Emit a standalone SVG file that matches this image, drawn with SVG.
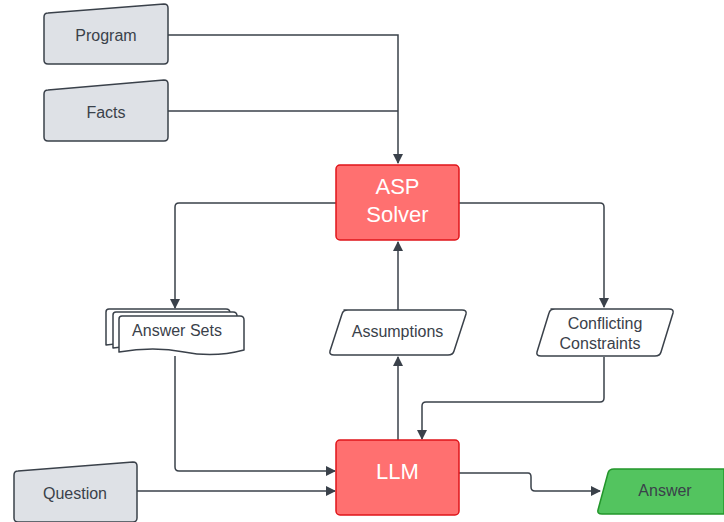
<svg xmlns="http://www.w3.org/2000/svg" width="724" height="522" viewBox="0 0 724 522">
  <style>
    .input { fill: #dee1e6; stroke: #3a414a; stroke-width: 1.5; stroke-linejoin: round; }
    .data { fill: #ffffff; stroke: #3a414a; stroke-width: 1.5; stroke-linejoin: round; }
    .proc { fill: #ff7070; stroke: #e0141a; stroke-width: 1.5; }
    .out { fill: #53c45f; stroke: #23962b; stroke-width: 1.5; stroke-linejoin: round; }
    .lbl { font-family: "Liberation Sans", Arial, sans-serif; font-size: 16px; fill: #3a414a; text-anchor: middle; }
    .big { font-family: "Liberation Sans", Arial, sans-serif; font-size: 22px; fill: #ffffff; text-anchor: middle; }
    .wire { fill: none; stroke: #3a414a; stroke-width: 1.5; }
  </style>
  <defs>
    <marker id="arrow" markerWidth="10" markerHeight="10" refX="9" refY="5" orient="auto" markerUnits="userSpaceOnUse">
      <path d="M0,0 L10,5 L0,10 Z" fill="#3a414a"/>
    </marker>
  </defs>

  <g id="connectors">
    <path class="wire" d="M168,35 H398 V163" marker-end="url(#arrow)"/>
    <path class="wire" d="M168,111 H398"/>
    <path class="wire" d="M336,203 H179 Q175,203 175,207 V308" marker-end="url(#arrow)"/>
    <path class="wire" d="M459,203 H600 Q604,203 604,207 V307" marker-end="url(#arrow)"/>
    <path class="wire" d="M398,310 V242" marker-end="url(#arrow)"/>
    <path class="wire" d="M398,440 V357" marker-end="url(#arrow)"/>
    <path class="wire" d="M604,357 V398 Q604,402 600,402 H426 Q422,402 422,406 V439" marker-end="url(#arrow)"/>
    <path class="wire" d="M175,356 V467 Q175,471 179,471 H335" marker-end="url(#arrow)"/>
    <path class="wire" d="M137,491 H335" marker-end="url(#arrow)"/>
    <path class="wire" d="M459,473 H528 Q531,473 531,477 V487 Q531,491 535,491 H600" marker-end="url(#arrow)"/>
  </g>

  <g id="program">
    <path class="input" d="M48,13 L164,4 Q168,4 168,8 V60 Q168,64 164,64 H48 Q44,64 44,60 V17 Q44,13 48,13 Z"/>
    <text class="lbl" x="106" y="41">Program</text>
  </g>

  <g id="facts">
    <path class="input" d="M48,90 L164,80 Q168,80 168,84 V137 Q168,141 164,141 H48 Q44,141 44,137 V94 Q44,90 48,90 Z"/>
    <text class="lbl" x="106" y="118">Facts</text>
  </g>

  <g id="asp-solver">
    <rect class="proc" x="336" y="165" width="123" height="75" rx="4"/>
    <text class="big" x="397.5" y="194">ASP</text>
    <text class="big" x="397.5" y="222">Solver</text>
  </g>

  <g id="answer-sets">
    <path class="data" d="M109,309 H226 Q230,309 230,313 V342 Q200,350 170,345 Q140,340 106,345 V312 Q106,309 109,309 Z"/>
    <path class="data" d="M116,312 H233 Q237,312 237,316 V346 Q207,354 177,349 Q147,343 113,348 V315 Q113,312 116,312 Z"/>
    <path class="data" d="M122,316 H240 Q244,316 244,320 V350 Q214,358 184,352 Q154,346 119,352 V319 Q119,316 122,316 Z"/>
    <text class="lbl" x="177" y="336">Answer Sets</text>
  </g>

  <g id="assumptions">
    <path class="data" d="M344,310 H462 Q467,310 466,314 L454,351 Q453,355 448,355 H334 Q329,355 330,351 L342,314 Q343,310 348,310 Z"/>
    <text class="lbl" x="397.5" y="337">Assumptions</text>
  </g>

  <g id="conflicting-constraints">
    <path class="data" d="M551,309 H669 Q674,309 673,313 L661,352 Q660,356 655,356 H541 Q536,356 537,352 L549,313 Q550,309 555,309 Z"/>
    <text class="lbl" x="605" y="329">Conflicting</text>
    <text class="lbl" x="600" y="349">Constraints</text>
  </g>

  <g id="llm">
    <rect class="proc" x="336" y="440" width="123" height="75" rx="4"/>
    <text class="big" x="397.5" y="479">LLM</text>
  </g>

  <g id="question">
    <path class="input" d="M18,471 L133,462 Q137,462 137,466 V518 Q137,522 133,522 H18 Q14,522 14,518 V475 Q14,471 18,471 Z"/>
    <text class="lbl" x="75" y="499">Question</text>
  </g>

  <g id="answer">
    <path class="out" d="M614,469 H724 V514 H602 Q597,514 598,510 L608,473 Q609,469 614,469 Z"/>
    <text class="lbl" x="665" y="496">Answer</text>
  </g>
</svg>
